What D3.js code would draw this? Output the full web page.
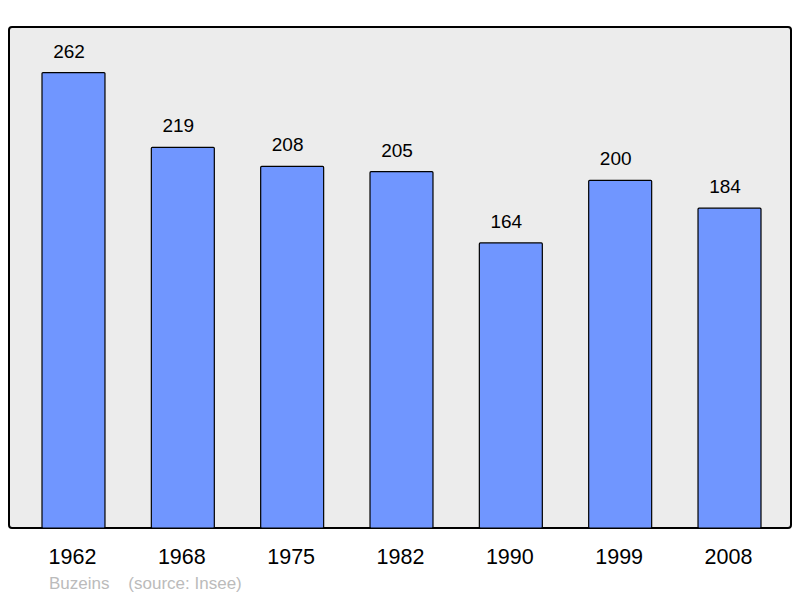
<!DOCTYPE html>
<html><head><meta charset="utf-8">
<script src="https://cdn.jsdelivr.net/npm/d3@7"></script>
<style>body{margin:0;background:#fff}svg{display:block}text{font-family:"Liberation Sans",Arial,sans-serif}</style>
</head><body>
<script>
const years = ["1962","1968","1975","1982","1990","1999","2008"];
const population = [262,219,208,205,164,200,184];
const townName = "Buzeins";
const sourceText = "(source: Insee)";

const W = 800, H = 598;
const svg = d3.select("body").append("svg").attr("width", W).attr("height", H);
const panel = {x0: 9, x1: 791, y0: 27, y1: 528};

svg.append("rect").attr("x", panel.x0).attr("y", panel.y0)
  .attr("width", panel.x1 - panel.x0).attr("height", panel.y1 - panel.y0)
  .attr("rx", 3).attr("fill", "#ececec").attr("stroke", "#000").attr("stroke-width", 2);

const x = d3.scaleBand().domain(years).range([42, 761]).paddingInner(0.424).paddingOuter(0);
const y = d3.scaleLinear().domain([0, d3.max(population) * 1.1]).range([panel.y1, panel.y0]);

const data = years.map((yr, i) => ({yr, v: population[i]}));

svg.selectAll("rect.bar").data(data).join("rect").attr("class", "bar")
  .attr("x", d => x(d.yr)).attr("y", d => y(d.v))
  .attr("width", x.bandwidth()).attr("height", d => y(0) - y(d.v))
  .attr("rx", 1)
  .attr("fill", "#7096ff").attr("stroke", "#000").attr("stroke-width", 1.2);

svg.selectAll("text.val").data(data).join("text").attr("class", "val")
  .attr("x", d => x(d.yr) + x.bandwidth() / 2 - 4.5).attr("y", d => y(d.v) - 15)
  .attr("text-anchor", "middle").attr("font-size", 19).attr("fill", "#000")
  .text(d => d.v);

svg.selectAll("text.yr").data(data).join("text").attr("class", "yr")
  .attr("x", d => x(d.yr) + x.bandwidth() / 2 - 1).attr("y", 564)
  .attr("text-anchor", "middle").attr("font-size", 21.5).attr("fill", "#000")
  .text(d => d.yr);

svg.append("text").attr("x", 49).attr("y", 589).attr("font-size", 17).attr("fill", "#bbbbbb")
  .attr("xml:space", "preserve").style("white-space", "pre")
  .text(townName + "    " + sourceText);
</script>
</body></html>
